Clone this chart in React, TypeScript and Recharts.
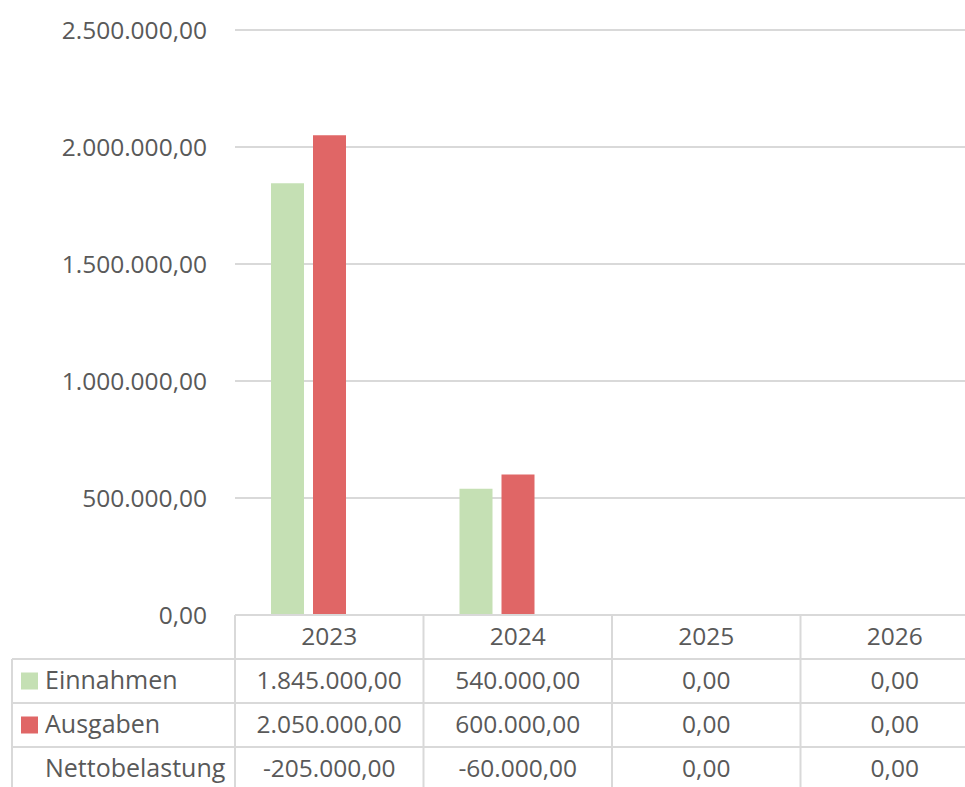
import { BarChart, Bar, XAxis, YAxis, CartesianGrid } from 'recharts';

const years = ['2023', '2024', '2025', '2026'];
const einnahmen = [1845000, 540000, 0, 0];
const ausgaben = [2050000, 600000, 0, 0];
const nettobelastung = [-205000, -60000, 0, 0];
const yTicks = [0, 500000, 1000000, 1500000, 2000000, 2500000];

const rows = [
    { name: 'Einnahmen', values: einnahmen, color: '#c5e0b4' },
    { name: 'Ausgaben', values: ausgaben, color: '#e06666' },
    { name: 'Nettobelastung', values: nettobelastung, color: null },
];

const data = years.map((year, i) => ({
    year,
    einnahmen: einnahmen[i],
    ausgaben: ausgaben[i],
    netto: nettobelastung[i],
}));

// Layout
const CHART_W = 1000; // breiter als der Rahmen, rechter Rand wird abgeschnitten wie im Original
const CHART_H = 787;
const MARGIN = { top: 30, right: 11, left: 0, bottom: 0 };
const Y_AXIS_W = 235;
const X_AXIS_H = 172;
const ROW_H = 44;
const TABLE_LEFT = 12;
const PLOT_W = CHART_W - MARGIN.left - MARGIN.right - Y_AXIS_W;
const COL_W = PLOT_W / years.length;

const FONT = '"Open Sans", "Noto Sans", sans-serif';
const FS = 24.5;
const TEXT = '#595959';
const LINE = '#d9d9d9';

// deutsches Zahlenformat 1.234.567,00
const fmt = (v: number) => {
    const [int, dec] = Math.abs(v).toFixed(2).split('.');
    return (v < 0 ? '-' : '') + int.replace(/\B(?=(\d{3})+(?!\d))/g, '.') + ',' + dec;
};

function TableTick(props: any) {
    const { x, y, payload } = props;
    const i = payload.index ?? props.index ?? 0;
    const left = x - COL_W / 2;
    const right = x + COL_W / 2;
    const bottom = y + X_AXIS_H;
    const lineProps = { stroke: LINE, strokeWidth: 2 };
    const mid = (top: number) => top + ROW_H / 2 - 2;

    return (
        <g>
            <line x1={left} y1={y} x2={left} y2={bottom} {...lineProps} />
            {i === years.length - 1 && <line x1={right} y1={y} x2={right} y2={bottom} {...lineProps} />}
            <text x={x} y={mid(y)} textAnchor="middle" dominantBaseline="central"
                fontSize={FS} fill={TEXT} fontFamily={FONT}>{payload.value}</text>
            {rows.map((r, ri) => {
                const top = y + ROW_H * (ri + 1);
                return (
                    <g key={r.name}>
                        <line x1={i === 0 ? TABLE_LEFT : left} y1={top} x2={right} y2={top} {...lineProps} />
                        <text x={x} y={mid(top)} textAnchor="middle" dominantBaseline="central"
                            fontSize={FS} fill={TEXT} fontFamily={FONT}>{fmt(r.values[i])}</text>
                        {i === 0 && (
                            <g>
                                {r.color && <rect x={TABLE_LEFT + 9} y={top + ROW_H / 2 - 8.5} width={17} height={17} fill={r.color} />}
                                <text x={TABLE_LEFT + 33} y={mid(top)} dominantBaseline="central"
                                    fontSize={25} fill={TEXT} fontFamily={FONT}>{r.name}</text>
                            </g>
                        )}
                    </g>
                );
            })}
            {i === 0 && <line x1={TABLE_LEFT} y1={y + ROW_H} x2={TABLE_LEFT} y2={bottom} {...lineProps} />}
        </g>
    );
}

export default function App() {
    return (
        <div style={{
            position: 'absolute', left: 0, top: 0, width: 965, height: 787,
            overflow: 'hidden', background: '#fff', fontFamily: FONT,
        }}>
            <BarChart width={CHART_W} height={CHART_H} data={data} margin={MARGIN} barSize={33} barGap={9}>
                <CartesianGrid vertical={false} stroke={LINE} strokeWidth={2} />
                <XAxis
                    dataKey="year"
                    height={X_AXIS_H}
                    interval={0}
                    axisLine={{ stroke: LINE, strokeWidth: 2 }}
                    tickLine={false}
                    tickSize={0}
                    tickMargin={0}
                    tick={<TableTick />}
                />
                <YAxis
                    width={Y_AXIS_W}
                    domain={[0, 2500000]}
                    ticks={yTicks}
                    allowDataOverflow={true}
                    axisLine={false}
                    tickLine={false}
                    tickSize={0}
                    tickMargin={28}
                    tickFormatter={fmt}
                    tick={{ fontSize: FS, fill: TEXT, fontFamily: FONT }}
                />
                <Bar dataKey="einnahmen" fill="#c5e0b4" isAnimationActive={false} />
                <Bar dataKey="ausgaben" fill="#e06666" isAnimationActive={false} />
                <Bar dataKey="netto" fill="none" fillOpacity={0} isAnimationActive={false} />
            </BarChart>
        </div>
    );
}
